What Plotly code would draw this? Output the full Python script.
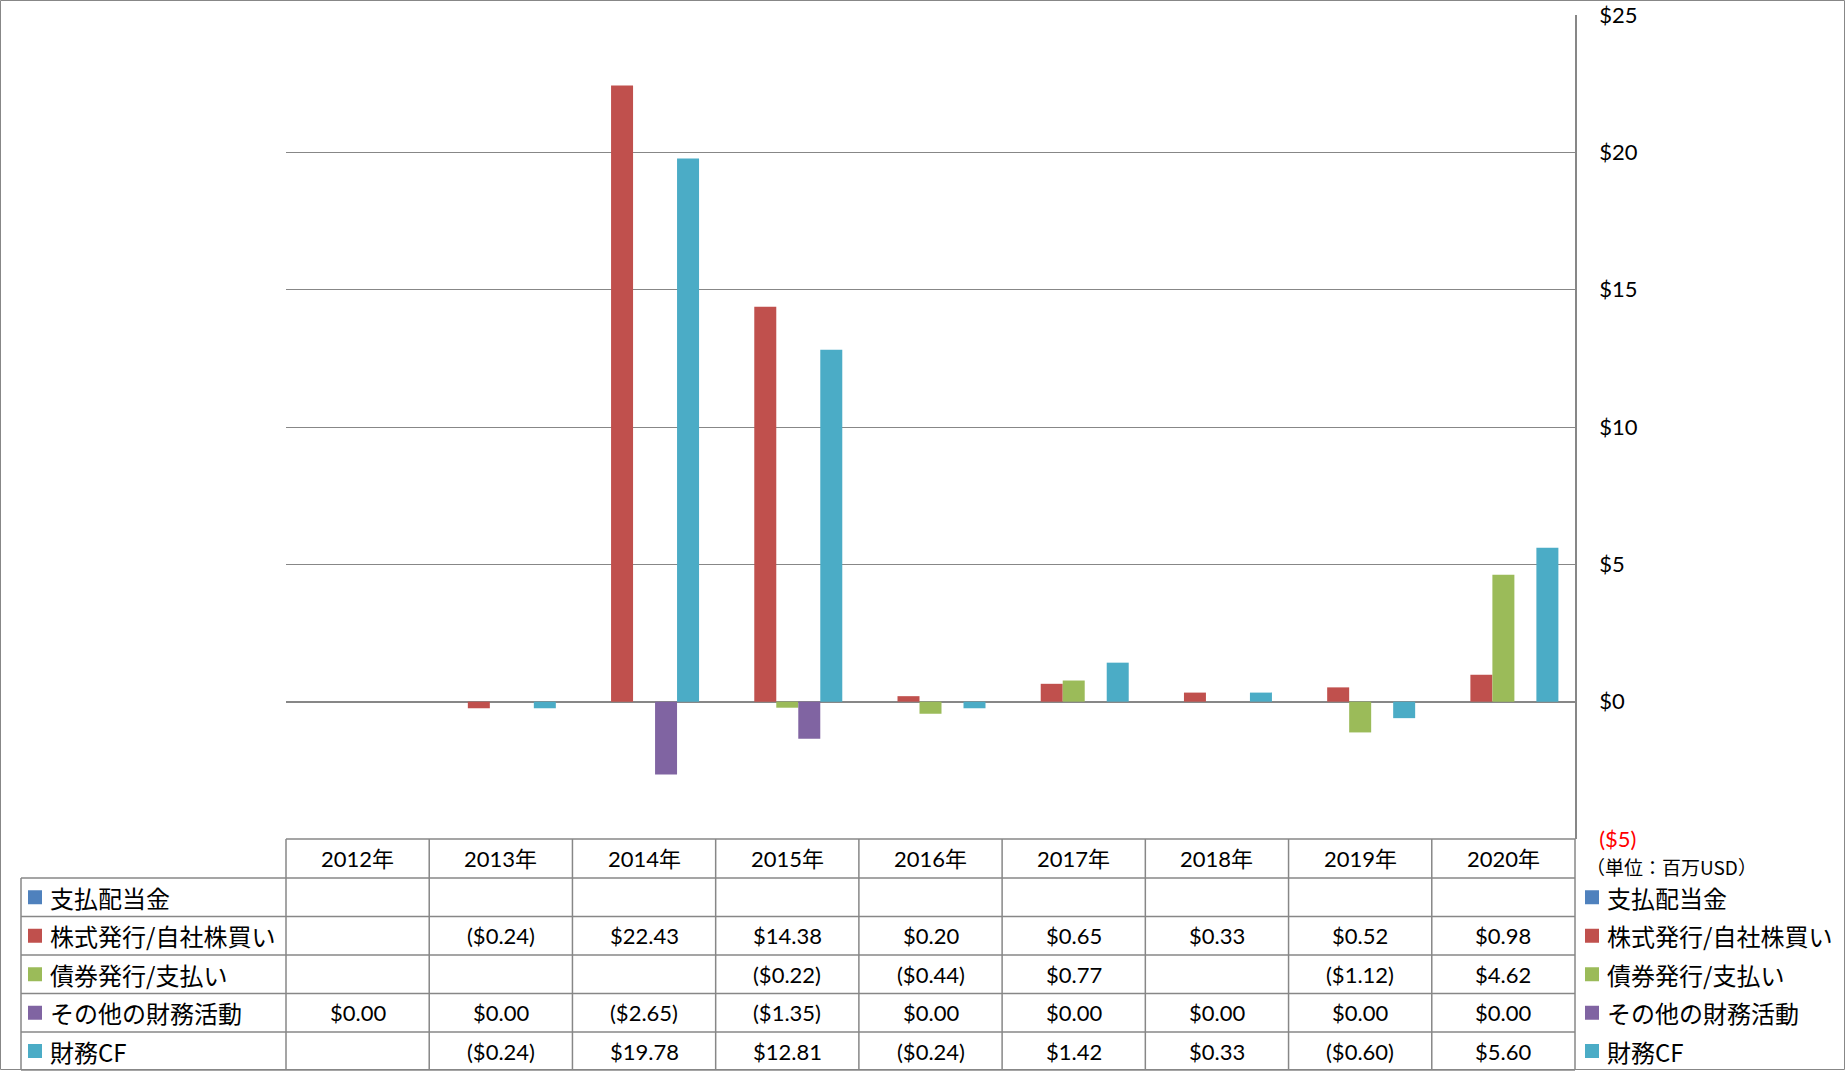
import plotly.graph_objects as go

# ---------------- data ----------------
years = ["2012年", "2013年", "2014年", "2015年", "2016年", "2017年", "2018年", "2019年", "2020年"]
series_names = ["支払配当金", "株式発行/自社株買い", "債券発行/支払い", "その他の財務活動", "財務CF"]
dividends = [None, None, None, None, None, None, None, None, None]
stock_issue = [None, -0.24, 22.43, 14.38, 0.20, 0.65, 0.33, 0.52, 0.98]
debt_issue = [None, None, None, -0.22, -0.44, 0.77, None, -1.12, 4.62]
other_fin = [0.00, 0.00, -2.65, -1.35, 0.00, 0.00, 0.00, 0.00, 0.00]
fin_cf = [None, -0.24, 19.78, 12.81, -0.24, 1.42, 0.33, -0.60, 5.60]
y_tick_vals = [-5, 0, 5, 10, 15, 20, 25]
y_tick_text = ['<span style="color:#FF0000">($5)</span>', "$0", "$5", "$10", "$15", "$20", "$25"]
unit_note = "（単位：百万USD）"

series_values = [dividends, stock_issue, debt_issue, other_fin, fin_cf]
colors = ["#4F81BD", "#C0504D", "#9BBB59", "#8064A2", "#4BACC6"]

# ---------------- geometry (pixels) ----------------
W, H = 1846, 1071
L, R, T, B = 286, 1575, 15, 839
PW, PH = R - L, B - T


def px(x):
    return (x - L) / PW


def py(y):
    return (B - y) / PH


def fmt(v):
    if v is None:
        return ""
    if v < 0:
        return "(${:.2f})".format(abs(v))
    return "${:.2f}".format(v)


fig = go.Figure()
for name, vals, col in zip(series_names, series_values, colors):
    fig.add_trace(go.Bar(x=years, y=vals, name=name, marker=dict(color=col, line=dict(width=0)),
                         showlegend=False))

num_font = dict(family="Lato, 'Noto Sans CJK JP', sans-serif", size=22, color="#000000")
jp_font = dict(family="'Noto Sans CJK JP', sans-serif", size=24, color="#000000")

shapes = []
annotations = []
line_col = "#878787"

# outer border
shapes.append(dict(type="rect", xref="paper", yref="paper", x0=px(0.5), x1=px(W - 1.5),
                   y0=py(0.5), y1=py(H - 1.5), line=dict(color=line_col, width=1)))

# table
header_top, header_bot = 839, 878
row_edges = [878, 916.5, 955, 993.5, 1032, 1070]
col_w = PW / len(years)
# horizontal lines
shapes.append(dict(type="line", xref="paper", yref="paper", x0=px(L), x1=px(R), y0=py(header_top),
                   y1=py(header_top), line=dict(color=line_col, width=1.5)))
for ye in row_edges:
    shapes.append(dict(type="line", xref="paper", yref="paper", x0=px(21), x1=px(R), y0=py(ye), y1=py(ye),
                       line=dict(color=line_col, width=1.5)))
# vertical lines
for i in range(len(years) + 1):
    xe = L + i * col_w
    shapes.append(dict(type="line", xref="paper", yref="paper", x0=px(xe), x1=px(xe), y0=py(header_top),
                       y1=py(1070), line=dict(color=line_col, width=1.5)))
shapes.append(dict(type="line", xref="paper", yref="paper", x0=px(21), x1=px(21), y0=py(878), y1=py(1070),
                   line=dict(color=line_col, width=1.5)))

# header labels
for yr in years:
    annotations.append(dict(x=yr, xref="x", y=py((header_top + header_bot) / 2), yref="paper", text=yr,
                            showarrow=False, font=num_font, xanchor="center", yanchor="middle"))

# rows
for r, (name, vals, col) in enumerate(zip(series_names, series_values, colors)):
    yc = (row_edges[r] + row_edges[r + 1]) / 2
    # label column square + text
    shapes.append(dict(type="rect", xref="paper", yref="paper", x0=px(28), x1=px(42), y0=py(yc - 7),
                       y1=py(yc + 7), fillcolor=col, line=dict(width=0)))
    annotations.append(dict(x=px(48), xref="paper", y=py(yc), yref="paper", text=name, showarrow=False,
                            font=jp_font, xanchor="left", yanchor="middle"))
    # values
    for yr, v in zip(years, vals):
        t = fmt(v)
        if t:
            annotations.append(dict(x=yr, xref="x", y=py(yc), yref="paper", text=t, showarrow=False,
                                    font=num_font, xanchor="center", yanchor="middle"))
    # right legend
    shapes.append(dict(type="rect", xref="paper", yref="paper", x0=px(1585), x1=px(1599), y0=py(yc - 7),
                       y1=py(yc + 7), fillcolor=col, line=dict(width=0)))
    annotations.append(dict(x=px(1605), xref="paper", y=py(yc), yref="paper", text=name, showarrow=False,
                            font=jp_font, xanchor="left", yanchor="middle"))

annotations.append(dict(x=px(1584), xref="paper", y=py(866), yref="paper", text=unit_note, showarrow=False,
                        font=dict(family="'Noto Sans CJK JP', sans-serif", size=19, color="#000000"),
                        xanchor="left", yanchor="middle"))

fig.update_layout(
    width=W, height=H,
    margin=dict(l=L, r=W - R, t=T, b=H - B, pad=0, autoexpand=False),
    paper_bgcolor="#FFFFFF", plot_bgcolor="#FFFFFF",
    barmode="group", bargap=0.232, bargroupgap=0,
    shapes=shapes, annotations=annotations,
    showlegend=False,
    font=num_font,
)
fig.update_xaxes(type="category", showticklabels=False, showgrid=False, zeroline=False, showline=False,
                 ticks="", range=[-0.5, len(years) - 0.5], automargin=False)
fig.update_yaxes(side="right", range=[-5, 25], tickvals=y_tick_vals, ticktext=y_tick_text,
                 showgrid=True, gridcolor=line_col, gridwidth=1,
                 zeroline=True, zerolinecolor=line_col, zerolinewidth=2,
                 showline=True, linecolor=line_col, linewidth=1.5, automargin=False,
                 ticks="", ticklabelstandoff=18, tickfont=num_font)

fig.write_html("out.html")
